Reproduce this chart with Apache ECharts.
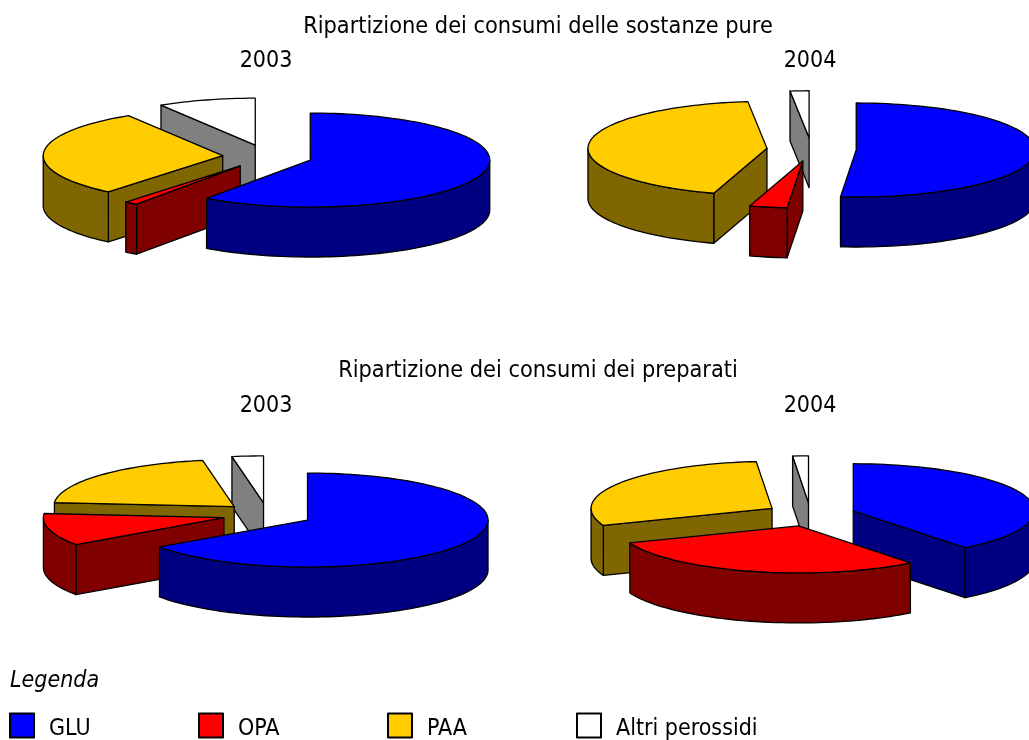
<!DOCTYPE html>
<html>
<head>
<meta charset="utf-8">
<style>
  html, body { margin: 0; padding: 0; background: #fff; }
  #chart { width: 1029px; height: 740px; }
</style>
<script src="https://cdn.jsdelivr.net/npm/echarts@6/dist/echarts.min.js"></script>
</head>
<body>
<div id="chart"></div>
<script>
// Shares in percent
const categories = ['GLU', 'OPA', 'PAA', 'Altri perossidi']
const pure2003 = [59.8, 1.2, 30.2, 8.8]
const pure2004 = [51.4, 3.4, 43.5, 1.7]
const prep2003 = [65.3, 11.1, 20.8, 2.8]
const prep2004 = [39.4, 29.7, 29.5, 1.4]

const topColors = ['#0000ff', '#ff0000', '#ffcc00', '#ffffff']
const sideColors = ['#000080', '#800000', '#806600', '#808080']

const FONT = '"DejaVu Sans Condensed", "DejaVu Sans", sans-serif'
const FONT_SIZE = 23

// Layout of the four pies (center of the unexploded pie, in pixels)
const RY = 47
const DEPTH = 50
const EXPLODE = 0.25
const panels = [
  { values: pure2003, cx: 267.5, cy: 156.5, rx: 179.5 },
  { values: pure2004, cx: 811.5, cy: 149.5, rx: 179 },
  { values: prep2003, cx: 267.5, cy: 514.6, rx: 180.5 },
  { values: prep2004, cx: 810.5, cy: 514.6, rx: 181 }
]

const rad = d => d * Math.PI / 180

// Angle is clockwise from 12 o'clock, same as the pie in the reference
function rimPoint(cx, cy, rx, a) {
  return [cx + rx * Math.sin(rad(a)), cy - RY * Math.cos(rad(a))]
}

function arcPoints(cx, cy, rx, a0, a1) {
  const n = Math.max(2, Math.ceil((a1 - a0) / 2))
  const pts = []
  for (let i = 0; i <= n; i++) pts.push(rimPoint(cx, cy, rx, a0 + (a1 - a0) * i / n))
  return pts
}

// Build one slice per value, back ones first so the front ones cover them
function buildSlices(panel) {
  const total = panel.values.reduce((s, v) => s + v, 0)
  const rx = panel.rx
  let start = 0
  const slices = panel.values.map((v, i) => {
    const a0 = start
    const a1 = start + v / total * 360
    start = a1
    const mid = (a0 + a1) / 2
    const cx = panel.cx + EXPLODE * rx * Math.sin(rad(mid))
    const cy = panel.cy - EXPLODE * RY * Math.cos(rad(mid))
    const ys = arcPoints(cx, cy, rx, a0, a1).map(p => p[1])
    return { i, a0, a1, cx, cy, rx, front: Math.max(cy, ...ys) }
  })
  return slices.sort((a, b) => a.front - b.front)
}

const sliceData = []
panels.forEach(p => {
  buildSlices(p).forEach(s => sliceData.push([s.i, s.a0, s.a1, s.cx, s.cy, s.rx]))
})

function poly(points, fill) {
  return {
    type: 'polygon',
    shape: { points },
    style: { fill, stroke: '#000', lineWidth: 1.3, lineJoin: 'round' }
  }
}

function wallFrom(cx, cy, rx, a, fill) {
  const rim = rimPoint(cx, cy, rx, a)
  return poly([[cx, cy], rim, [rim[0], rim[1] + DEPTH], [cx, cy + DEPTH]], fill)
}

function renderSlice(params, api) {
  const i = api.value(0)
  const a0 = api.value(1)
  const a1 = api.value(2)
  const cx = api.value(3)
  const cy = api.value(4)
  const rx = api.value(5)
  const children = []

  if (Math.sin(rad(a0)) < 0) children.push(wallFrom(cx, cy, rx, a0, sideColors[i]))
  if (Math.sin(rad(a1)) > 0) children.push(wallFrom(cx, cy, rx, a1, sideColors[i]))

  // Outer wall only shows on the front half of the rim
  const f0 = Math.max(a0, 90)
  const f1 = Math.min(a1, 270)
  if (f1 > f0) {
    const arc = arcPoints(cx, cy, rx, f0, f1)
    const low = arc.map(p => [p[0], p[1] + DEPTH]).reverse()
    children.push(poly(arc.concat(low), sideColors[i]))
  }

  children.push(poly([[cx, cy]].concat(arcPoints(cx, cy, rx, a0, a1)), topColors[i]))
  return { type: 'group', children }
}

const titles = [
  { text: 'Ripartizione dei consumi delle sostanze pure', left: 538, top: 26.5, size: 23.3 },
  { text: '2003', left: 266, top: 61, size: FONT_SIZE },
  { text: '2004', left: 810, top: 61, size: FONT_SIZE },
  { text: 'Ripartizione dei consumi dei preparati', left: 538, top: 371, size: 23.3 },
  { text: '2003', left: 266, top: 406, size: FONT_SIZE },
  { text: '2004', left: 810, top: 406, size: FONT_SIZE }
]
const legendLefts = [9, 198, 387, 576]

const chart = echarts.init(document.getElementById('chart'), null, { renderer: 'canvas' })

chart.setOption({
  backgroundColor: '#fff',
  animation: false,
  title: titles.map(t => ({
    text: t.text,
    left: t.left,
    top: t.top,
    padding: 0,
    textAlign: 'center',
    textVerticalAlign: 'middle',
    textStyle: { fontFamily: FONT, fontSize: t.size, fontWeight: 'normal', color: '#000' }
  })).concat([{
    text: 'Legenda',
    left: 10,
    top: 681,
    padding: 0,
    textVerticalAlign: 'middle',
    textStyle: { fontFamily: FONT, fontSize: FONT_SIZE, fontWeight: 'normal', fontStyle: 'italic', color: '#000' }
  }]),
  // One legend per entry, the reference spaces them evenly whatever the text width
  legend: categories.map((name, i) => ({
    left: legendLefts[i],
    top: 712.5,
    padding: 0,
    icon: 'rect',
    itemWidth: 24,
    itemHeight: 24,
    selectedMode: false,
    data: [name],
    formatter: '{t|{name}}',
    textStyle: {
      padding: [0, 0, 0, 10],
      rich: {
        t: { fontFamily: FONT, fontSize: FONT_SIZE, color: '#000', padding: [7, 0, 0, 0] }
      }
    }
  })),
  series: [
    {
      type: 'custom',
      coordinateSystem: 'none',
      silent: true,
      renderItem: renderSlice,
      data: sliceData
    }
  ].concat(categories.map((name, i) => ({
    // Empty series only feeding the legend
    type: 'pie',
    name,
    radius: 0,
    data: [],
    itemStyle: { color: topColors[i], borderColor: '#000', borderWidth: 1 }
  })))
})
</script>
</body>
</html>
